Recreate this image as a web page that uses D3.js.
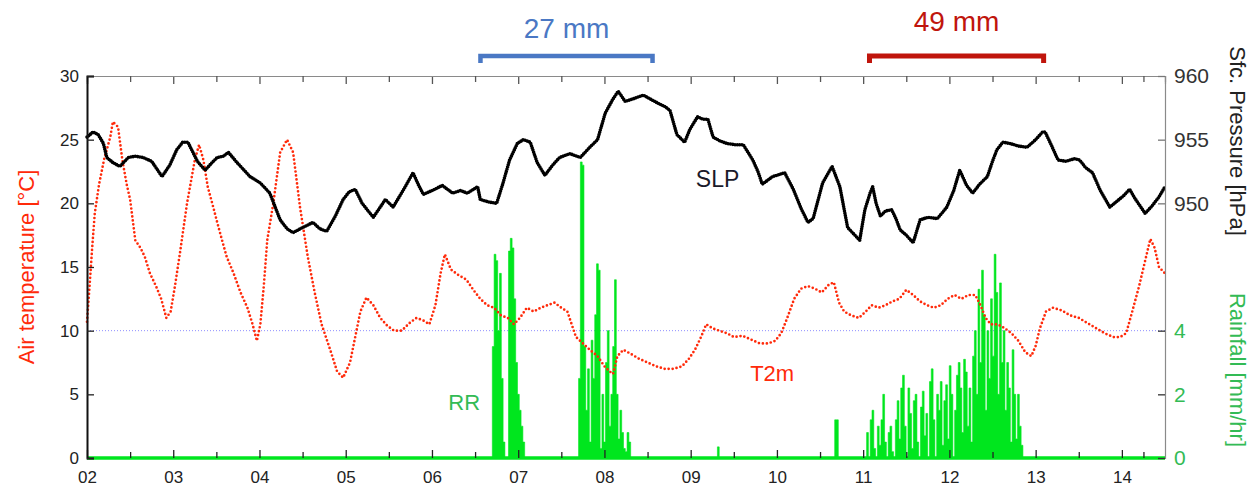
<!DOCTYPE html>
<html>
<head>
<meta charset="utf-8">
<script src="https://cdn.jsdelivr.net/npm/d3@7"></script>
<style>
  html, body { margin: 0; padding: 0; background: #ffffff; }
  svg { display: block; }
</style>
</head>
<body>
<svg id="chart" width="1254" height="486"></svg>
<script>
// ---- Axis ticks -----------------------------------------------------------
const dayTicks = [2, 3, 4, 5, 6, 7, 8, 9, 10, 11, 12, 13, 14];
const dayTickLabels = ["02", "03", "04", "05", "06", "07", "08", "09", "10", "11", "12", "13", "14"];
const halfDayTicks = [2.5, 3.5, 4.5, 5.5, 6.5, 7.5, 8.5, 9.5, 10.5, 11.5, 12.5, 13.5, 14.25];
const tempTicks = [0, 5, 10, 15, 20, 25, 30];
const pressureTicks = [950, 955, 960];
const rainTicks = [0, 2, 4];

// ---- 2 m air temperature (day of month, °C) ------------------------------
const t2mDay = [
  2.00, 2.03, 2.06, 2.09, 2.14, 2.20, 2.27, 2.30, 2.36, 2.41, 2.46, 2.50, 2.56, 2.62, 2.67, 2.73, 2.80, 2.86, 2.92, 2.97,
  3.02, 3.08, 3.16, 3.25, 3.30, 3.35, 3.40, 3.46, 3.51, 3.57, 3.62, 3.70, 3.78, 3.86, 3.92, 3.97,
  4.01, 4.05, 4.09, 4.16, 4.24, 4.32, 4.39, 4.47, 4.56, 4.64, 4.72, 4.82, 4.90, 4.97,
  5.05, 5.11, 5.17, 5.24, 5.32, 5.40, 5.48, 5.56, 5.65, 5.74, 5.82, 5.90, 5.97,
  6.04, 6.10, 6.15, 6.22, 6.30, 6.40, 6.48, 6.56, 6.64, 6.72, 6.80, 6.88, 6.95,
  7.02, 7.10, 7.18, 7.26, 7.34, 7.42, 7.50, 7.57, 7.62, 7.67, 7.75, 7.83, 7.92,
  8.00, 8.06, 8.10, 8.15, 8.22, 8.30, 8.40, 8.50, 8.60, 8.70, 8.80, 8.90, 8.98,
  9.05, 9.12, 9.18, 9.25, 9.33, 9.42, 9.50, 9.60, 9.70, 9.80, 9.90, 9.98,
  10.05, 10.12, 10.20, 10.28, 10.36, 10.44, 10.52, 10.60, 10.66, 10.72, 10.78, 10.86, 10.95,
  11.03, 11.10, 11.18, 11.26, 11.34, 11.42, 11.50, 11.58, 11.66, 11.74, 11.82, 11.90, 11.98,
  12.06, 12.14, 12.22, 12.30, 12.36, 12.42, 12.48, 12.56, 12.64, 12.72, 12.80, 12.88, 12.95,
  13.00, 13.05, 13.12, 13.20, 13.30, 13.40, 13.50, 13.60, 13.70, 13.80, 13.90, 13.98,
  14.05, 14.12, 14.20, 14.27, 14.33, 14.38, 14.43, 14.50
];
const t2mValue = [
  10.7, 13.5, 16.5, 19.2, 21.5, 23.5, 25.2, 26.4, 26.0, 23.4, 21.5, 20.3, 17.1, 16.5, 15.8, 14.5, 13.5, 12.5, 11.0, 11.5,
  13.5, 16.2, 20.0, 23.4, 24.6, 23.4, 21.3, 19.8, 18.5, 17.0, 15.8, 14.5, 13.0, 11.8, 10.5, 9.2,
  10.5, 13.5, 17.1, 20.0, 24.0, 25.0, 24.0, 19.7, 15.8, 13.0, 10.5, 8.5, 6.8, 6.3,
  7.5, 9.5, 11.5, 12.6, 12.0, 11.0, 10.4, 10.0, 10.0, 10.6, 11.0, 10.8, 10.5,
  12.0, 14.5, 16.0, 14.8, 14.4, 14.0, 13.2, 12.5, 12.0, 11.8, 11.2, 11.0, 10.5,
  11.0, 11.8, 11.5, 11.8, 12.0, 12.2, 11.8, 11.5, 10.5, 9.5, 9.0, 8.5, 8.0,
  7.2, 6.8, 6.6, 8.0, 8.5, 8.2, 7.8, 7.5, 7.2, 7.0, 7.0, 7.2, 7.8,
  8.5, 9.5, 10.5, 10.2, 10.0, 9.8, 9.5, 9.6, 9.3, 9.0, 9.0, 9.2,
  9.8, 11.0, 12.5, 13.3, 13.5, 13.3, 13.0, 13.6, 13.8, 12.2, 11.5, 11.2, 11.0,
  11.5, 12.0, 11.8, 12.0, 12.3, 12.5, 13.2, 12.8, 12.3, 12.0, 11.8, 12.0, 12.5,
  12.8, 12.5, 12.8, 12.8, 12.0, 11.0, 10.5, 10.5, 10.2, 9.8, 9.2, 8.3, 8.0,
  8.8, 10.2, 11.5, 11.8, 11.6, 11.2, 11.0, 10.6, 10.2, 9.8, 9.5, 9.5,
  9.8, 11.5, 13.5, 15.5, 17.2, 16.5, 15.0, 14.5
];

// ---- Surface pressure (day of month, hPa) --------------------------------
const slpDay = [
  2.00, 2.07, 2.13, 2.19, 2.23, 2.30, 2.38, 2.48, 2.56, 2.65, 2.75, 2.87, 2.96,
  3.04, 3.11, 3.17, 3.28, 3.37, 3.45, 3.51, 3.58, 3.64, 3.74, 3.89,
  4.01, 4.12, 4.24, 4.32, 4.39, 4.50, 4.62, 4.70, 4.78, 4.88, 4.97,
  5.04, 5.11, 5.19, 5.32, 5.46, 5.55, 5.62, 5.69, 5.78, 5.84, 5.90,
  6.00, 6.12, 6.24, 6.33, 6.41, 6.53, 6.56, 6.66, 6.75, 6.82, 6.90, 6.99,
  7.06, 7.14, 7.22, 7.31, 7.40, 7.48, 7.60, 7.72, 7.83, 7.92,
  8.01, 8.10, 8.16, 8.24, 8.33, 8.45, 8.53, 8.61, 8.70, 8.76, 8.84, 8.93, 8.99,
  9.08, 9.14, 9.20, 9.26, 9.34, 9.42, 9.52, 9.61, 9.72, 9.78, 9.83, 9.95,
  10.09, 10.19, 10.28, 10.36, 10.42, 10.53, 10.64, 10.73, 10.82, 10.96,
  11.02, 11.08, 11.11, 11.15, 11.20, 11.26, 11.33, 11.38, 11.43, 11.50, 11.58, 11.66, 11.75, 11.86, 11.97,
  12.05, 12.12, 12.20, 12.27, 12.35, 12.44, 12.50, 12.55, 12.62, 12.70, 12.80, 12.90,
  13.00, 13.08, 13.11, 13.18, 13.26, 13.35, 13.45, 13.51, 13.58, 13.66, 13.75, 13.86, 13.95,
  14.02, 14.09, 14.15, 14.22, 14.27, 14.35, 14.43, 14.50
];
const slpValue = [
  955.2, 955.6, 955.4, 954.7, 953.6, 953.2, 952.9, 953.6, 953.7, 953.6, 953.3, 952.1, 953.0,
  954.2, 954.8, 954.8, 953.3, 952.6, 953.2, 953.6, 953.7, 954.0, 953.2, 952.1,
  951.6, 950.8, 948.7, 948.0, 947.7, 948.1, 948.5, 948.0, 947.8, 949.0, 950.3,
  950.9, 951.1, 950.0, 948.9, 950.3, 949.7, 950.5, 951.3, 952.4, 951.5, 950.7,
  951.0, 951.4, 950.8, 951.0, 950.8, 951.3, 950.3, 950.1, 950.0, 951.5, 953.4, 954.7,
  955.0, 954.8, 953.2, 952.2, 953.0, 953.6, 953.9, 953.6, 954.4, 955.0,
  957.1, 958.2, 958.8, 958.0, 958.2, 958.5, 958.2, 957.9, 957.6, 957.3, 955.4, 954.8, 955.8,
  956.8, 956.6, 956.6, 955.2, 954.9, 954.7, 954.6, 954.6, 953.4, 952.5, 951.5, 952.1,
  952.4, 951.1, 949.6, 948.5, 948.8, 951.6, 952.9, 951.3, 948.1, 947.1,
  949.5, 950.8, 951.3, 950.0, 949.0, 949.4, 949.5, 948.8, 947.9, 947.5, 946.9, 948.7, 948.9, 948.8, 949.7,
  951.0, 952.6, 951.4, 950.8, 951.5, 952.1, 953.3, 954.2, 954.8, 954.7, 954.5, 954.4,
  955.0, 955.6, 955.6, 954.6, 953.4, 953.3, 953.5, 953.4, 952.8, 952.4, 951.0, 949.7, 950.2,
  950.6, 951.1, 950.4, 949.7, 949.2, 949.8, 950.5, 951.3
];

// ---- Rainfall (mm/hr), half-hourly values for each wet spell -------------
const rainStepDays = 1 / 48;
const rainSpellStart = [6.70, 7.70, 9.31, 10.67, 11.04];
const rainSpell1 = [3.5, 6.4, 6.2, 4.0, 5.8, 2.5, 0.5, 0, 0, 6.5, 6.9, 6.6, 5.0, 3.0, 2.0, 1.5, 1.0, 0.5];
const rainSpell2 = [2.5, 9.3, 9.2, 3.5, 1.5, 2.8, 0.5, 3.7, 2.5, 4.5, 6.1, 5.9, 0.3, 2.0, 0.5, 3.0, 4.0, 1.0, 2.0,
                    3.5, 5.6, 2.0, 0.6, 1.5, 0.8, 0.3, 0.2, 0.8, 0.5];
const rainSpell3 = [0.35];
const rainSpell4 = [1.2, 1.2];
const rainSpell5 = [
  0.8, 0, 1.2, 1.5, 0.3, 0, 1.0, 0.4, 1.2, 2.0, 0.5, 0, 0.8, 1.0, 0.2, 0, 1.2, 1.8, 0.6, 2.2,
  2.6, 1.0, 0, 2.2, 1.4, 0.3, 1.8, 2.0, 0.5, 0, 1.6, 2.1, 0.7, 1.4, 0, 2.4, 2.8, 1.2, 0, 2.0,
  1.5, 2.4, 0.4, 1.8, 2.3, 0.6, 2.9, 2.0, 0, 1.5, 2.6, 3.0, 2.2, 0.8, 3.1, 2.7, 1.0, 2.2, 0.5,
  3.2, 4.0, 2.0, 5.3, 3.0, 5.9, 4.5, 1.5, 4.0, 2.5, 5.0, 3.2, 6.4, 5.2, 2.0, 5.5, 3.0, 4.0,
  1.5, 3.0, 2.2, 0.5, 3.4, 2.0, 0.6, 2.0, 1.0, 0.4
];
const rainSpells = [rainSpell1, rainSpell2, rainSpell3, rainSpell4, rainSpell5];

// ---- Accumulated rainfall of the two wet periods -------------------------
const totalLabels = ["27 mm", "49 mm"];
const totalFrom = [6.545, 11.056];
const totalTo = [8.575, 13.11];

// ---- Layout ---------------------------------------------------------------
const svg = d3.select("#chart");
const plotLeft = 87, plotRight = 1165, plotTop = 76, plotBottom = 458;

const x = d3.scaleLinear().domain([2, 14.5]).range([plotLeft, plotRight]);
const yT = d3.scaleLinear().domain([0, 30]).range([plotBottom, plotTop]);
const yP = d3.scaleLinear().domain([930, 960]).range([plotBottom, plotTop]);
const yR = d3.scaleLinear().domain([0, 12]).range([plotBottom, plotTop]);

const TEMP_RED = "#ff2a0a";
const RAIN_GREEN = "#00e61e";
const LABEL_GREEN = "#33bb55";
const FONT = "Liberation Sans, Arial, sans-serif";

// dotted reference line at 10 °C / 4 mm/hr
svg.append("line")
  .attr("x1", plotLeft).attr("x2", plotRight)
  .attr("y1", yT(10)).attr("y2", yT(10))
  .attr("stroke", "#8f8fff").attr("stroke-width", 1)
  .attr("stroke-dasharray", "1,2");

// top frame with inward ticks
const topAxis = svg.append("g").attr("transform", `translate(0,${plotTop})`)
  .call(d3.axisTop(x).tickValues(dayTicks).tickSize(-8).tickFormat(""));
const topMinor = svg.append("g").attr("transform", `translate(0,${plotTop})`)
  .call(d3.axisTop(x).tickValues(halfDayTicks).tickSize(-6).tickFormat(""));
[topAxis, topMinor].forEach(g => {
  g.selectAll("path").attr("stroke", "#8a8a8a").attr("stroke-width", 1.2);
  g.selectAll("line").attr("stroke", "#555").attr("stroke-width", 1.3);
});

// rainfall: half-hourly step area per spell
const rainArea = d3.area()
  .curve(d3.curveStepAfter)
  .x(d => x(d.t))
  .y0(yR(0))
  .y1(d => yR(d.r));
rainSpells.forEach((vals, i) => {
  const pts = vals.map((r, k) => ({ t: rainSpellStart[i] + k * rainStepDays, r }));
  pts.unshift({ t: rainSpellStart[i], r: 0 });
  pts.push({ t: rainSpellStart[i] + vals.length * rainStepDays, r: 0 });
  svg.append("path")
    .datum(pts)
    .attr("d", rainArea)
    .attr("fill", RAIN_GREEN)
    .attr("stroke", RAIN_GREEN)
    .attr("stroke-width", 0.6)
    .attr("stroke-linejoin", "miter");
});

// temperature: dotted trace
const tempPts = t2mDay.map((d, i) => [d, t2mValue[i]]);
svg.append("path")
  .datum(tempPts)
  .attr("d", d3.line().x(d => x(d[0])).y(d => yT(d[1])))
  .attr("fill", "none")
  .attr("stroke", TEMP_RED)
  .attr("stroke-width", 2.7)
  .attr("stroke-linecap", "round")
  .attr("stroke-dasharray", "0 4");

// surface pressure: dense dotted trace
const slpPts = slpDay.map((d, i) => [d, slpValue[i]]);
svg.append("path")
  .datum(slpPts)
  .attr("d", d3.line().x(d => x(d[0])).y(d => yP(d[1])))
  .attr("fill", "none")
  .attr("stroke", "#000")
  .attr("stroke-width", 3.6)
  .attr("stroke-linecap", "round")
  .attr("stroke-dasharray", "0 2.3");

// rain baseline along the bottom frame
svg.append("line")
  .attr("x1", plotLeft).attr("x2", plotRight)
  .attr("y1", yR(0)).attr("y2", yR(0))
  .attr("stroke", RAIN_GREEN).attr("stroke-width", 3.5);

// bottom axis: day labels and inward ticks
const bottomAxis = svg.append("g").attr("transform", `translate(0,${plotBottom})`)
  .call(d3.axisBottom(x).tickValues(dayTicks).tickSize(-8).tickPadding(13)
    .tickFormat((d, i) => dayTickLabels[i]));
const bottomMinor = svg.append("g").attr("transform", `translate(0,${plotBottom})`)
  .call(d3.axisBottom(x).tickValues(halfDayTicks).tickSize(-6).tickFormat(""));
[bottomAxis, bottomMinor].forEach(g => {
  g.select(".domain").remove();
  g.selectAll("line").attr("stroke", "#222").attr("stroke-width", 1.3);
});
bottomAxis.selectAll("text")
  .attr("fill", "#222").attr("font-size", 17).attr("font-family", FONT);

// left temperature axis
const leftAxis = svg.append("g").attr("transform", `translate(${plotLeft},0)`)
  .call(d3.axisLeft(yT).tickValues(tempTicks).tickSize(-7).tickPadding(8));
leftAxis.select(".domain").attr("stroke", "#111").attr("stroke-width", 2);
leftAxis.selectAll("line").attr("stroke", "#222").attr("stroke-width", 1.3);
leftAxis.selectAll("text")
  .attr("fill", "#222").attr("font-size", 17).attr("font-family", FONT);

// right pressure axis
const pAxis = svg.append("g").attr("transform", `translate(${plotRight},0)`)
  .call(d3.axisRight(yP).tickValues(pressureTicks).tickSize(-7).tickPadding(9));
pAxis.select(".domain").attr("stroke", "#8a8a8a").attr("stroke-width", 1.2);
pAxis.selectAll("line").attr("stroke", "#777").attr("stroke-width", 1.3);
pAxis.selectAll("text")
  .attr("fill", "#333").attr("font-size", 21).attr("font-family", FONT);

// right rainfall axis
const rAxis = svg.append("g").attr("transform", `translate(${plotRight},0)`)
  .call(d3.axisRight(yR).tickValues(rainTicks).tickSize(-7).tickPadding(9));
rAxis.select(".domain").remove();
rAxis.selectAll("line").attr("stroke", "#333").attr("stroke-width", 1.3);
rAxis.selectAll("text")
  .attr("fill", LABEL_GREEN).attr("font-size", 21).attr("font-family", FONT);

// axis titles
svg.append("text")
  .attr("transform", `translate(34,${(plotTop + plotBottom) / 2}) rotate(-90)`)
  .attr("text-anchor", "middle")
  .attr("font-family", FONT).attr("font-size", 22)
  .attr("fill", TEMP_RED)
  .text("Air temperature [°C]");
svg.append("text")
  .attr("transform", `translate(1230,141) rotate(90)`)
  .attr("text-anchor", "middle")
  .attr("font-family", FONT).attr("font-size", 22)
  .attr("fill", "#222")
  .text("Sfc. Pressure [hPa]");
svg.append("text")
  .attr("transform", `translate(1230,370) rotate(90)`)
  .attr("text-anchor", "middle")
  .attr("font-family", FONT).attr("font-size", 22)
  .attr("fill", LABEL_GREEN)
  .text("Rainfall [mm/hr]");

// in-plot series labels
svg.append("text").attr("x", x(9.06)).attr("y", 187)
  .attr("font-family", FONT).attr("font-size", 23).attr("fill", "#1a1a2a").text("SLP");
svg.append("text").attr("x", x(9.69)).attr("y", 381)
  .attr("font-family", FONT).attr("font-size", 22).attr("fill", TEMP_RED).text("T2m");
svg.append("text").attr("x", x(6.19)).attr("y", 410)
  .attr("font-family", FONT).attr("font-size", 22).attr("fill", LABEL_GREEN).text("RR");

// accumulated rainfall brackets above the plot
const totalColors = ["#4a78c4", "#c0150c"];
const totalTextY = [38, 31];
totalLabels.forEach((lab, i) => {
  const x0 = x(totalFrom[i]), x1 = x(totalTo[i]);
  svg.append("path")
    .attr("d", `M${x0 + 1.5},63 V56 H${x1 - 1.5} V63`)
    .attr("fill", "none")
    .attr("stroke", totalColors[i])
    .attr("stroke-width", i === 0 ? 4.5 : 5);
  svg.append("text")
    .attr("x", (x0 + x1) / 2).attr("y", totalTextY[i])
    .attr("text-anchor", "middle")
    .attr("font-family", FONT).attr("font-size", 28)
    .attr("fill", totalColors[i])
    .text(lab);
});
</script>
</body>
</html>
